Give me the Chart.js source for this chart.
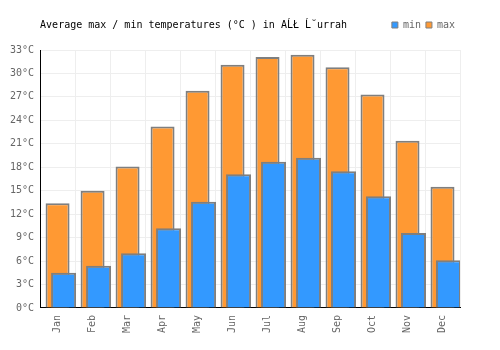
<!DOCTYPE html>
<html>
<head>
<meta charset="utf-8">
<script src="https://cdn.jsdelivr.net/npm/chart.js@4/dist/chart.umd.min.js"></script>
<style>
  body { margin: 0; background: #fff; }
</style>
</head>
<body>
<canvas id="chart" width="500" height="350"></canvas>
<script>
const meses = ['Jan', 'Feb', 'Mar', 'Apr', 'May', 'Jun', 'Jul', 'Aug', 'Sep', 'Oct', 'Nov', 'Dec'];
const minTemps = [4.5, 5.4, 7.0, 10.2, 13.6, 17.1, 18.7, 19.2, 17.5, 14.3, 9.6, 6.1];
const maxTemps = [13.4, 15.0, 18.1, 23.2, 27.8, 31.1, 32.1, 32.4, 30.8, 27.3, 21.4, 15.5];
const yTicks = [0, 3, 6, 9, 12, 15, 18, 21, 24, 27, 30, 33];

const fonte = "'DejaVu Sans Mono', monospace";
// the min bars sit a few pixels right of the max bars
const desvio = 6 / 35;

new Chart(document.getElementById('chart'), {
    type: 'bar',
    data: {
        labels: meses,
        datasets: [{
            label: 'min',
            data: minTemps.map((v, i) => ({ x: i, y: v })),
            xAxisID: 'x2',
            grouped: false,
            backgroundColor: '#3399ff',
            borderColor: '#7f7f7f',
            borderWidth: 2,
            categoryPercentage: 1,
            barPercentage: 25 / 35
        }, {
            label: 'max',
            data: maxTemps,
            xAxisID: 'x',
            grouped: false,
            backgroundColor: '#ff9933',
            borderColor: '#7f7f7f',
            borderWidth: 2,
            categoryPercentage: 1,
            barPercentage: 24 / 35
        }]
    },
    options: {
        responsive: false,
        animation: false,
        layout: { padding: { top: 15, left: 4, right: 40, bottom: 10 } },
        plugins: {
            legend: {
                position: 'top',
                align: 'end',
                labels: {
                    boxWidth: 6,
                    boxHeight: 6,
                    padding: 5,
                    color: '#666',
                    font: { family: fonte, size: 10 },
                    // thinner outline on the legend boxes than on the bars
                    generateLabels: (chart) => Chart.defaults.plugins.legend.labels
                        .generateLabels(chart).map(l => ({ ...l, lineWidth: 1 }))
                }
            },
            title: {
                display: true,
                text: 'Average max / min temperatures (°C ) in AĹŁ Ĺ˘urrah',
                align: 'start',
                position: 'top',
                fullSize: false,
                weight: 500,
                color: '#000',
                font: { family: fonte, size: 10, weight: 'normal' },
                padding: { top: -21, bottom: 19 }
            },
            tooltip: { enabled: false }
        },
        scales: {
            x: {
                type: 'category',
                offset: true,
                grid: { color: '#eeeeee', offset: true, drawTicks: false },
                border: { color: '#000', width: 1 },
                ticks: {
                    color: '#666',
                    font: { family: fonte, size: 10 },
                    minRotation: 90,
                    maxRotation: 90,
                    padding: 7
                }
            },
            x2: {
                type: 'linear',
                display: false,
                offset: false,
                min: -0.5 - desvio,
                max: meses.length - 0.5 - desvio
            },
            y: {
                min: 0,
                max: 33,
                afterBuildTicks: (axis) => {
                    axis.ticks = yTicks.map(v => ({ value: v }));
                },
                grid: { color: '#eeeeee', drawTicks: false },
                border: { color: '#000', width: 1 },
                ticks: {
                    color: '#666',
                    font: { family: fonte, size: 10 },
                    padding: 6,
                    callback: (v) => v + '°C'
                }
            }
        }
    }
});
</script>
</body>
</html>
